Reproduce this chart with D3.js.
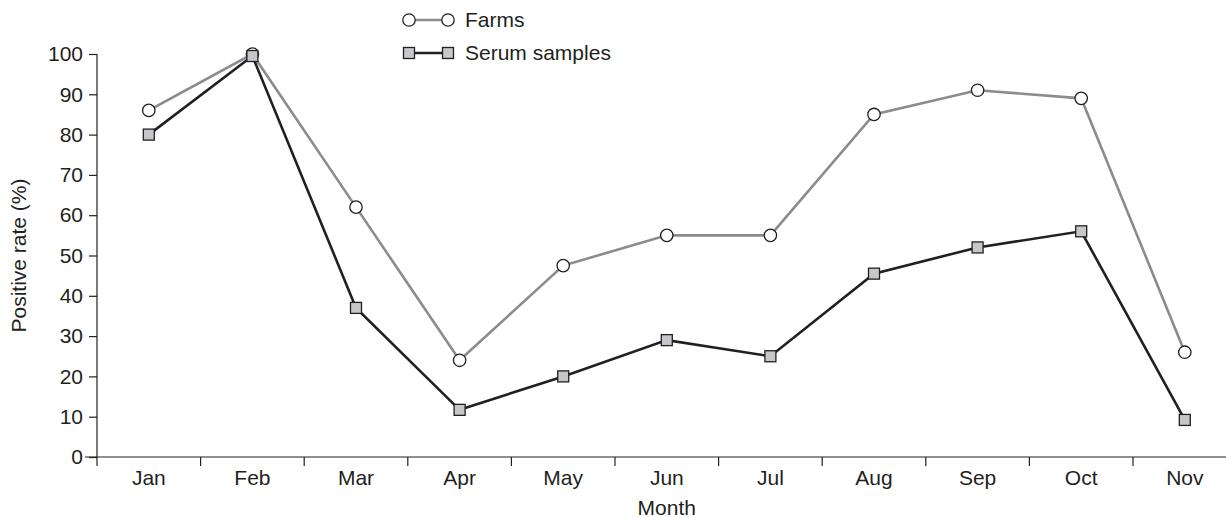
<!DOCTYPE html>
<html>
<head>
<meta charset="utf-8">
<script src="https://cdn.jsdelivr.net/npm/d3@7"></script>
<style>
  html, body { margin: 0; padding: 0; background: #fff; }
  svg { display: block; }
  text { font-family: "Liberation Sans", Arial, Helvetica, sans-serif; fill: #231f20; }
</style>
</head>
<body>
<svg id="chart" width="1226" height="518"></svg>
<script>
const months = ["Jan", "Feb", "Mar", "Apr", "May", "Jun", "Jul", "Aug", "Sep", "Oct", "Nov"];
const farms = [86, 100, 62, 24, 47.5, 55, 55, 85, 91, 89, 26];
const serum = [80, 99.5, 37, 11.7, 20, 29, 25, 45.5, 52, 56, 9.2];
const yTicks = [0, 10, 20, 30, 40, 50, 60, 70, 80, 90, 100];
const seriesNames = ["Farms", "Serum samples"];

(function () {
const svg = d3.select("#chart");
const ink = "#231f20";
const grayLine = "#8c8c8c";
const squareFill = "#c6c7ca";
const fontSize = 21;

const mLeft = 97, mBottom = 457, mTop = 54;
const step = 103.6;

const x = d3.scaleBand().domain(months).range([mLeft, mLeft + step * months.length]).padding(0);
const y = d3.scaleLinear().domain([0, 100]).range([mBottom, mTop]);

// Y axis
const yAxis = svg.append("g").attr("transform", `translate(${mLeft},0)`)
  .call(d3.axisLeft(y).tickValues(yTicks).tickSize(8).tickPadding(6).tickSizeOuter(0));
yAxis.select(".domain").remove();
yAxis.selectAll(".tick line").attr("stroke", ink).attr("stroke-width", 1.2);
yAxis.selectAll(".tick text").style("font-size", fontSize + "px").attr("fill", ink)
  .style("font-family", '"Liberation Sans", Arial, sans-serif');
svg.append("line").attr("x1", mLeft).attr("x2", mLeft).attr("y1", y(100)).attr("y2", mBottom + 9)
  .attr("stroke", ink).attr("stroke-width", 1.2);

// X axis
const xAxis = svg.append("g").attr("transform", `translate(0,${mBottom})`)
  .call(d3.axisBottom(x).tickSize(0).tickPadding(13));
xAxis.select(".domain").remove();
xAxis.selectAll(".tick text").style("font-size", fontSize + "px").attr("fill", ink)
  .style("font-family", '"Liberation Sans", Arial, sans-serif');
svg.append("line").attr("x1", mLeft - 12).attr("x2", 1226).attr("y1", mBottom).attr("y2", mBottom)
  .attr("stroke", ink).attr("stroke-width", 1.2);
svg.append("g").selectAll("line").data(months.slice(1)).join("line")
  .attr("x1", d => x(d)).attr("x2", d => x(d))
  .attr("y1", mBottom).attr("y2", mBottom + 9)
  .attr("stroke", ink).attr("stroke-width", 1.2);

// Axis titles
svg.append("text").attr("x", x("Jun") + x.bandwidth() / 2).attr("y", 515)
  .attr("text-anchor", "middle").style("font-size", fontSize + "px").text("Month");
svg.append("text").attr("transform", `translate(26,${y(50)}) rotate(-90)`)
  .attr("text-anchor", "middle").style("font-size", fontSize + "px").text("Positive rate (%)");

const cx = (d, i) => x(months[i]) + x.bandwidth() / 2;
const line = d3.line().x(cx).y(d => y(d));

svg.append("path").datum(farms).attr("d", line)
  .attr("fill", "none").attr("stroke", grayLine).attr("stroke-width", 2.6);
svg.append("path").datum(serum).attr("d", line)
  .attr("fill", "none").attr("stroke", ink).attr("stroke-width", 2.6);

svg.append("g").selectAll("circle").data(farms).join("circle")
  .attr("cx", cx).attr("cy", d => y(d)).attr("r", 6.2)
  .attr("fill", "#fff").attr("stroke", ink).attr("stroke-width", 1.3);
const sq = 11;
svg.append("g").selectAll("rect").data(serum).join("rect")
  .attr("x", (d, i) => cx(d, i) - sq / 2).attr("y", d => y(d) - sq / 2)
  .attr("width", sq).attr("height", sq)
  .attr("fill", squareFill).attr("stroke", ink).attr("stroke-width", 1.3);

// Legend
const lg = svg.append("g");
const lx1 = 409, lx2 = 448, ly = [20, 53];
lg.append("line").attr("x1", lx1).attr("x2", lx2).attr("y1", ly[0]).attr("y2", ly[0])
  .attr("stroke", grayLine).attr("stroke-width", 2.6);
[lx1, lx2].forEach(px => lg.append("circle").attr("cx", px).attr("cy", ly[0]).attr("r", 6.2)
  .attr("fill", "#fff").attr("stroke", ink).attr("stroke-width", 1.3));
lg.append("line").attr("x1", lx1).attr("x2", lx2).attr("y1", ly[1]).attr("y2", ly[1])
  .attr("stroke", ink).attr("stroke-width", 2.6);
[lx1, lx2].forEach(px => lg.append("rect").attr("x", px - sq / 2).attr("y", ly[1] - sq / 2)
  .attr("width", sq).attr("height", sq)
  .attr("fill", squareFill).attr("stroke", ink).attr("stroke-width", 1.3));
seriesNames.forEach((n, i) => lg.append("text").attr("x", 465).attr("y", ly[i])
  .attr("dy", "0.35em").style("font-size", fontSize + "px").text(n));
})();
</script>
</body>
</html>
